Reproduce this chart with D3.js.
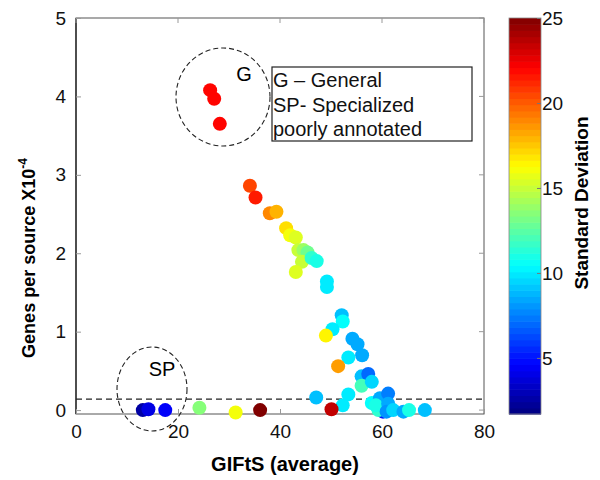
<!DOCTYPE html>
<html>
<head>
<meta charset="utf-8">
<script src="https://cdn.jsdelivr.net/npm/d3@7"></script>
<style>
  body { margin: 0; background: #fff; }
  svg { font-family: "Liberation Sans", Arial, sans-serif; }
</style>
</head>
<body>
<div id="chart"></div>
<script>
// GIFtS (average)
const gifts = [60.2, 26.3, 27.1, 28.2, 34.1, 35.2, 38.0, 39.3, 41.2, 42.0, 43.1, 43.6, 44.6, 45.4, 44.3, 46.2, 47.2, 43.1, 49.2, 49.2,
  52.1, 52.3, 50.3, 49.0, 54.2, 55.2, 56.1, 53.4, 51.4, 56.0, 57.3, 56.0, 58.0, 47.1, 53.4, 52.3, 50.1, 58.0, 59.6, 59.3,
  61.2, 58.8, 61.2, 60.9, 62.2, 64.2, 65.3, 68.4, 13.1, 14.2, 17.5, 24.2, 31.3, 36.1];
// Genes per source (x10^-4)
const genes = [-0.02, 4.08, 3.97, 3.65, 2.86, 2.71, 2.51, 2.53, 2.32, 2.23, 2.20, 2.04, 2.04, 2.01, 1.89, 1.94, 1.90, 1.76, 1.64, 1.57,
  1.21, 1.13, 1.03, 0.95, 0.91, 0.84, 0.70, 0.67, 0.56, 0.43, 0.46, 0.31, 0.36, 0.16, 0.20, 0.06, 0.01, 0.09, 0.15, 0.00,
  0.21, 0.06, 0.08, -0.02, 0.00, -0.02, 0.00, 0.00, 0.00, 0.01, 0.00, 0.03, -0.03, 0.00];
// Standard deviation (colour)
const stdev = [5, 22, 22, 22, 20.5, 21.5, 19, 18, 17, 16, 15.5, 15, 14, 13, 15, 11.5, 11, 15.5, 10, 10,
  9, 10.5, 10, 16.5, 8.5, 8.5, 8.5, 10, 18.5, 9, 7, 12, 9.5, 9, 10, 10, 23.5, 10.5, 8.5, 11.5,
  7.5, 11, 8.5, 8, 9.5, 8.5, 11, 9, 2.5, 4, 4.5, 13.5, 16, 25];

const xTicks = [0, 20, 40, 60, 80];
const yTicks = [0, 1, 2, 3, 4, 5];
const cTicks = [5, 10, 15, 20, 25];
const legendLines = ["G \u2013 General", "SP- Specialized", "poorly annotated"];

const W = 600, H = 480;
const svg = d3.select("#chart").append("svg").attr("width", W).attr("height", H);

const L = 76, R = 484, T = 18, B = 414;
const x = d3.scaleLinear().domain([0, 80]).range([L, R]);
const y = d3.scaleLinear().domain([-0.05, 5]).range([B, T]);
const cMin = 1.7, cMax = 25;

function jet(t) {
  t = Math.max(0, Math.min(1, t));
  const c = v => Math.round(255 * Math.max(0, Math.min(1, 1.5 - Math.abs(v))));
  return `rgb(${c(4 * t - 3)},${c(4 * t - 2)},${c(4 * t - 1)})`;
}
const color = v => jet((v - cMin) / (cMax - cMin));

// box
svg.append("rect").attr("x", L).attr("y", T).attr("width", R - L).attr("height", B - T)
  .attr("fill", "none").attr("stroke", "#555").attr("stroke-width", 1);
svg.append("line").attr("x1", L).attr("x2", L).attr("y1", T).attr("y2", B)
  .attr("stroke", "#111").attr("stroke-width", 1.2);

// ticks (inward)
const fmt = d3.format("d");
const xAxis = svg.append("g").attr("transform", `translate(0,${B})`)
  .call(d3.axisBottom(x).tickValues(xTicks).tickFormat(fmt).tickSizeInner(-5).tickSizeOuter(0).tickPadding(11));
const yAxis = svg.append("g").attr("transform", `translate(${L},0)`)
  .call(d3.axisLeft(y).tickValues(yTicks).tickFormat(fmt).tickSizeInner(-5).tickSizeOuter(0).tickPadding(10));
[xAxis, yAxis].forEach(g => {
  g.select(".domain").remove();
  g.selectAll(".tick line").attr("stroke", "#999");
  g.selectAll(".tick text").attr("font-size", 19).attr("fill", "#111")
    .attr("font-family", "'Liberation Sans', Arial, sans-serif");
});
// top / right ticks
svg.append("g").selectAll("line").data(xTicks).join("line")
  .attr("x1", d => x(d)).attr("x2", d => x(d)).attr("y1", T).attr("y2", T + 5).attr("stroke", "#999");
svg.append("g").selectAll("line").data(yTicks).join("line")
  .attr("x1", R).attr("x2", R - 5).attr("y1", d => y(d)).attr("y2", d => y(d)).attr("stroke", "#999");

// dashed threshold line
svg.append("line").attr("x1", L).attr("x2", R).attr("y1", y(0.14)).attr("y2", y(0.14))
  .attr("stroke", "#222").attr("stroke-width", 1.3).attr("stroke-dasharray", "6,4");

// points
const pts = gifts.map((g, i) => ({ g, n: genes[i], s: stdev[i] }));
svg.append("g").selectAll("circle").data(pts).join("circle")
  .attr("cx", d => x(d.g)).attr("cy", d => y(d.n)).attr("r", 7)
  .attr("fill", d => color(d.s));

// annotation ellipses
svg.append("ellipse").attr("cx", 223).attr("cy", 97).attr("rx", 47).attr("ry", 49)
  .attr("fill", "none").attr("stroke", "#222").attr("stroke-width", 1.1).attr("stroke-dasharray", "5,3");
svg.append("text").attr("x", 244).attr("y", 81).attr("text-anchor", "middle")
  .attr("font-size", 20).text("G");
svg.append("ellipse").attr("cx", 152).attr("cy", 389).attr("rx", 35).attr("ry", 42)
  .attr("fill", "none").attr("stroke", "#222").attr("stroke-width", 1.1).attr("stroke-dasharray", "5,3");
svg.append("text").attr("x", 162).attr("y", 376).attr("text-anchor", "middle")
  .attr("font-size", 20).text("SP");

// legend box
svg.append("rect").attr("x", 272).attr("y", 67).attr("width", 200).attr("height", 74)
  .attr("fill", "#fff").attr("stroke", "#222").attr("stroke-width", 1.2);
svg.append("g").selectAll("text").data(legendLines).join("text")
  .attr("x", 273).attr("y", (d, i) => 87 + i * 24.5).attr("font-size", 20).attr("fill", "#111").text(d => d);

// axis titles
svg.append("text").attr("x", (L + R) / 2 + 5).attr("y", 471).attr("text-anchor", "middle")
  .attr("font-size", 20).attr("font-weight", "bold").text("GIFtS (average)");
const yt = svg.append("text").attr("transform", "translate(35,258) rotate(-90)").attr("text-anchor", "middle")
  .attr("font-size", 18).attr("font-weight", "bold");
yt.append("tspan").text("Genes per source X10");
yt.append("tspan").attr("dy", -8).attr("font-size", 12).text("-4");

// colorbar
const cbL = 509, cbW = 32;
const cy = d3.scaleLinear().domain([cMin, cMax]).range([B, T]);
const nBands = 64;
const bands = d3.range(nBands).map(i => cMin + (i + 0.5) * (cMax - cMin) / nBands);
svg.append("g").selectAll("rect").data(bands).join("rect")
  .attr("x", cbL).attr("width", cbW)
  .attr("y", d => cy(d + (cMax - cMin) / nBands / 2))
  .attr("height", (B - T) / nBands + 0.6)
  .attr("fill", d => color(d));
svg.append("rect").attr("x", cbL).attr("y", T).attr("width", cbW).attr("height", B - T)
  .attr("fill", "none").attr("stroke", "#888").attr("stroke-width", 0.8);
const cAxis = svg.append("g").attr("transform", `translate(${cbL + cbW},0)`)
  .call(d3.axisRight(cy).tickValues(cTicks).tickFormat(fmt).tickSizeInner(-4).tickSizeOuter(0).tickPadding(1));
cAxis.select(".domain").remove();
cAxis.selectAll(".tick line").attr("stroke", "#777");
cAxis.selectAll(".tick text").attr("font-size", 19).attr("fill", "#111")
  .attr("font-family", "'Liberation Sans', Arial, sans-serif");
svg.append("text").attr("transform", "translate(588,203) rotate(-90)").attr("text-anchor", "middle")
  .attr("font-size", 19).attr("font-weight", "bold").text("Standard Deviation");
</script>
</body>
</html>
